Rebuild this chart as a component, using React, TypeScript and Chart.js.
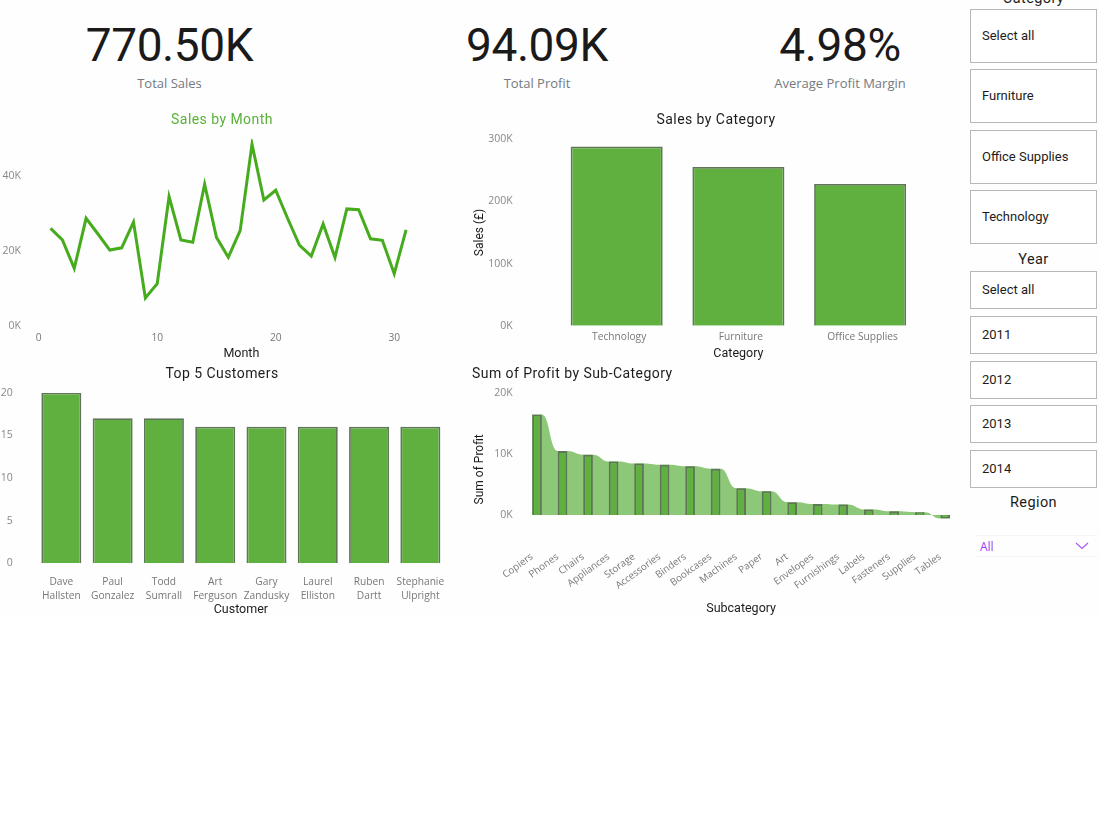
import { useEffect, useRef } from 'react';
import { Chart, registerables } from 'chart.js';

Chart.register(...registerables);

// Sales by Month
const days = [1, 2, 3, 4, 5, 6, 7, 8, 9, 10, 11, 12, 13, 14, 15, 16, 17, 18, 19, 20, 21, 22, 23, 24, 25, 26, 27, 28, 29, 30, 31];
const daySales = [26100, 23000, 15400, 28800, 24600, 20300, 20900, 27800, 7500, 11300, 34600, 23000, 22400, 37900, 23700, 18400, 25500, 48600, 33700, 36300, 28800, 21600, 18700, 27300, 18300, 31300, 31100, 23300, 22900, 14000, 25700];
const dayTicks = [0, 20000, 40000];

// Sales by Category
const categories = ['Technology', 'Furniture', 'Office Supplies'];
const categorySales = [288500, 255500, 228000];
const categoryTicks = [0, 100000, 200000, 300000];

// Top 5 Customers
const customers = ['Dave Hallsten', 'Paul Gonzalez', 'Todd Sumrall', 'Art Ferguson', 'Gary Zandusky', 'Laurel Elliston', 'Ruben Dartt', 'Stephanie Ulpright'];
const customerOrders = [20, 17, 17, 16, 16, 16, 16, 16];
const customerTicks = [0, 5, 10, 15, 20];

// Sum of Profit by Sub-Category
const subCategories = ['Copiers', 'Phones', 'Chairs', 'Appliances', 'Storage', 'Accessories', 'Binders', 'Bookcases', 'Machines', 'Paper', 'Art', 'Envelopes', 'Furnishings', 'Labels', 'Fasteners', 'Supplies', 'Tables'];
const subProfit = [16500, 10500, 9900, 8800, 8450, 8250, 8000, 7600, 4400, 3900, 2100, 1800, 1700, 900, 600, 450, -600];
const subTicks = [0, 10000, 20000];

// slicers and cards
const kpis = [
  { value: '770.50K', label: 'Total Sales', x: 169.5 },
  { value: '94.09K', label: 'Total Profit', x: 537 },
  { value: '4.98%', label: 'Average Profit Margin', x: 840 },
];
const categoryOptions = ['Select all', 'Furniture', 'Office Supplies', 'Technology'];
const categoryTops = [9, 69, 130, 190];
const yearOptions = ['Select all', '2011', '2012', '2013', '2014'];
const yearTops = [271, 316, 361, 405, 450];

const GREEN = 'rgb(96,176,64)';
const BAR_EDGE = 'rgb(96,118,88)';
const RIBBON = 'rgb(140,200,120)';
const TICK = '#777777';
const INK = '#1c1c1c';
const DIN = 'Roboto';
const SEGOE = '"Open Sans"';

const kLabel = (v: any) => `${Number(v) / 1000}K`;

// draws the light band between neighbouring bars, from the bar elements themselves
const ribbonPlugin = {
  id: 'ribbon',
  beforeDatasetsDraw(chart: any) {
    const bars = chart.getDatasetMeta(0).data;
    const base = chart.scales.y.getPixelForValue(0);
    const ctx = chart.ctx;
    ctx.save();
    ctx.fillStyle = RIBBON;
    for (let i = 0; i < bars.length - 1; i++) {
      const a = bars[i];
      const b = bars[i + 1];
      const x0 = a.x - a.width / 2;
      const x1 = a.x + a.width / 2;
      const x2 = b.x - b.width / 2;
      const x3 = b.x + b.width / 2;
      const mid = (x1 + x2) / 2;
      ctx.beginPath();
      ctx.moveTo(x0, base);
      ctx.lineTo(x0, a.y);
      ctx.lineTo(x1, a.y);
      ctx.bezierCurveTo(mid, a.y, mid, b.y, x2, b.y);
      ctx.lineTo(x3, b.y);
      ctx.lineTo(x3, base);
      ctx.closePath();
      ctx.fill();
    }
    ctx.restore();
  },
};

function ChartBox({ left, top, width, height, config }: any) {
  const ref = useRef<HTMLCanvasElement>(null);

  useEffect(() => {
    if (!ref.current) return;
    const chart = new Chart(ref.current, config);
    return () => chart.destroy();
  }, []);

  return (
    <div style={{ position: 'absolute', left, top, width, height }}>
      <canvas ref={ref}></canvas>
    </div>
  );
}

// tick padding leaks into the layout, so clear it once the axis is measured
const clearPadding = (s: any) => {
  s.paddingTop = 0;
  s.paddingBottom = 0;
  s.paddingLeft = 0;
  s.paddingRight = 0;
};

// common options; plot edges are pinned with the axis boxes
function baseOptions(o: any) {
  return {
    responsive: true,
    maintainAspectRatio: false,
    animation: false,
    layout: { padding: { top: o.plotTop, right: 0, bottom: 0, left: 0 } },
    plugins: { legend: { display: false }, tooltip: { enabled: false } },
    scales: {
      x: {
        afterFit: (s: any) => { s.height = o.xHeight; clearPadding(s); },
        grid: { display: false, drawTicks: false },
        border: { display: false },
        title: { display: true, text: o.xTitle, color: INK, font: { family: DIN, size: 12.5 }, padding: 0 },
        ticks: { color: TICK, font: { family: SEGOE, size: o.xSize || 10.2, lineHeight: 1.35 }, padding: o.xPad, labelOffset: o.xOffset || 0, autoSkip: false, maxRotation: 0, minRotation: 0 },
      },
      y: {
        afterFit: (s: any) => { s.width = o.yWidth; clearPadding(s); },
        afterBuildTicks: (s: any) => { s.ticks = o.yTicks.map((value: number) => ({ value })); },
        min: o.min,
        max: o.max,
        grid: { display: false, drawTicks: false },
        border: { display: false },
        title: { display: !!o.yTitle, text: o.yTitle, color: INK, font: { family: DIN, size: 12 }, padding: 0 },
        ticks: { color: '#888888', font: { family: SEGOE, size: 10.5 }, padding: o.yPad, callback: o.yCb },
      },
    },
  };
}

const monthConfig: any = {
  type: 'line',
  data: { datasets: [{ data: days.map((d, i) => ({ x: d, y: daySales[i] })), borderColor: 'rgb(70,172,30)', borderWidth: 3, pointRadius: 0, tension: 0 }] },
  options: (() => {
    const o: any = baseOptions({ plotTop: 139, xTitle: 'Month', xHeight: 35, xPad: 5, yWidth: 38.7, yPad: 17.7, min: 0, max: 50000, yTicks: dayTicks, yCb: kLabel });
    o.scales.x.type = 'linear';
    o.scales.x.min = 0;
    o.scales.x.max = 34.2;
    o.scales.x.ticks.stepSize = 10;
    o.scales.x.ticks.includeBounds = false;
    return o;
  })(),
};

const categoryConfig: any = {
  type: 'bar',
  data: { labels: categories, datasets: [{ data: categorySales, backgroundColor: GREEN, borderColor: BAR_EDGE, borderWidth: 1.8, categoryPercentage: 0.756, barPercentage: 1 }] },
  options: baseOptions({ plotTop: 139.3, xTitle: 'Category', xHeight: 35.3, xPad: 5, xOffset: 2.5, yWidth: 82.8, yPad: 43, yTitle: 'Sales (£)', min: 0, max: 300000, yTicks: categoryTicks, yCb: kLabel }),
};

const customerConfig: any = {
  type: 'bar',
  data: { labels: customers, datasets: [{ data: customerOrders, backgroundColor: GREEN, borderColor: BAR_EDGE, borderWidth: 1.8, categoryPercentage: 0.78, barPercentage: 1 }] },
  options: (() => {
    const o: any = baseOptions({ plotTop: 32.7, xTitle: 'Customer', xHeight: 53.7, xPad: 12, yWidth: 35.7, yPad: 23, min: 0, max: 20, yTicks: customerTicks });
    o.scales.x.ticks.callback = function (this: any, v: any) { return String(this.getLabelForValue(v)).split(' '); };
    return o;
  })(),
};

const subConfig: any = {
  type: 'bar',
  data: { labels: subCategories, datasets: [{ data: subProfit, backgroundColor: GREEN, borderColor: BAR_EDGE, borderWidth: 2, categoryPercentage: 0.38, barPercentage: 1 }] },
  plugins: [ribbonPlugin],
  options: (() => {
    const o: any = baseOptions({ plotTop: 33.3, xTitle: 'Subcategory', xHeight: 70.7, xPad: 5, xOffset: -5, xSize: 9.8, yWidth: 51.25, yPad: 11.5, yTitle: 'Sum of Profit', min: -5000, max: 20000, yTicks: subTicks, yCb: kLabel });
    o.scales.x.ticks.maxRotation = 36;
    o.scales.x.ticks.minRotation = 36;
    return o;
  })(),
};

const titleStyle: any = {
  position: 'absolute',
  fontFamily: DIN,
  fontSize: 14,
  lineHeight: '18px',
  letterSpacing: 0.45,
  color: INK,
  whiteSpace: 'nowrap',
};

const boxStyle: any = {
  position: 'absolute',
  left: 970,
  width: 127,
  boxSizing: 'border-box',
  border: '1px solid #b8b8b8',
  display: 'flex',
  alignItems: 'center',
  paddingLeft: 11,
  paddingBottom: 1,
  fontFamily: DIN,
  fontSize: 13,
  color: INK,
  background: '#ffffff',
};

const headStyle: any = {
  position: 'absolute',
  left: 970,
  width: 127,
  textAlign: 'center',
  fontFamily: DIN,
  fontSize: 14.5,
  letterSpacing: 0.4,
  color: INK,
  lineHeight: '18px',
};

export default function App() {
  return (
    <div style={{ position: 'absolute', left: 0, top: 0, width: 1100, height: 825, overflow: 'hidden', background: '#ffffff' }}>
      <div style={{ position: 'absolute', left: 0, top: 0, width: 1100, height: 617, background: '#fefefe' }} />

      {kpis.map((k) => (
        <div key={k.label}>
          <div style={{ position: 'absolute', left: k.x - 150, top: 15, width: 300, textAlign: 'center', fontFamily: DIN, fontWeight: 400, fontSize: 46, letterSpacing: -0.4, lineHeight: '60px', color: '#1a1a1a' }}>{k.value}</div>
          <div style={{ position: 'absolute', left: k.x - 150, top: 73, width: 300, textAlign: 'center', fontFamily: SEGOE, fontSize: 13, lineHeight: '20px', color: '#747a7e' }}>{k.label}</div>
        </div>
      ))}

      <ChartBox left={0} top={0} width={444} height={361} config={monthConfig} />
      <ChartBox left={473} top={0} width={448} height={361} config={categoryConfig} />
      <ChartBox left={0} top={360} width={446} height={257} config={customerConfig} />
      <ChartBox left={473} top={360} width={485} height={256} config={subConfig} />

      <div style={{ ...titleStyle, left: 122, width: 200, top: 110, textAlign: 'center', color: 'rgb(90,176,56)' }}>Sales by Month</div>
      <div style={{ ...titleStyle, left: 616, width: 200, top: 110, textAlign: 'center' }}>Sales by Category</div>
      <div style={{ ...titleStyle, left: 122, width: 200, top: 364, textAlign: 'center' }}>Top 5 Customers</div>
      <div style={{ ...titleStyle, left: 472, top: 364 }}>Sum of Profit by Sub-Category</div>

      <div style={{ ...headStyle, top: -10 }}>Category</div>
      {categoryOptions.map((c, i) => (
        <div key={c} style={{ ...boxStyle, top: categoryTops[i], height: 54 }}>{c}</div>
      ))}
      <div style={{ ...headStyle, top: 251 }}>Year</div>
      {yearOptions.map((c, i) => (
        <div key={c} style={{ ...boxStyle, top: yearTops[i], height: 38 }}>{c}</div>
      ))}
      <div style={{ ...headStyle, top: 494 }}>Region</div>
      <div style={{ position: 'absolute', left: 975, top: 535, width: 122, height: 22, boxSizing: 'border-box', borderTop: '1px solid #f8f5fa', borderBottom: '1px solid #f8f5fa' }} />
      <div style={{ position: 'absolute', left: 980, top: 539, fontFamily: SEGOE, fontSize: 12, lineHeight: '16px', color: '#9c3cf0' }}>All</div>
      <svg style={{ position: 'absolute', left: 1075, top: 542 }} width="14" height="8">
        <polyline points="1,1 7,6.5 13,1" fill="none" stroke="#a855f7" strokeWidth="1.1" />
      </svg>
    </div>
  );
}
